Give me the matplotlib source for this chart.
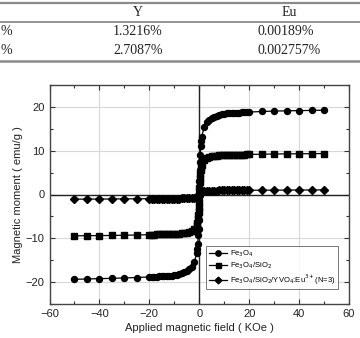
import numpy as np
import matplotlib
matplotlib.use('Agg')
from matplotlib import pyplot as plt
from matplotlib.ticker import MultipleLocator

# 表格内容（上方截断的表）
col_heads = ['Y', 'Eu']
row_y = ['1.3216%', '2.7087%']
row_eu = ['0.00189%', '0.002757%']
row_left = ['%', '%']

# 磁滞回线数据 (KOe, emu/g)
field = [-50, -45, -40, -35, -30, -25,
         -20, -19, -18, -17, -16, -15, -14, -13, -12, -11,
         -10, -9, -8, -7, -6, -5, -4, -3, -2, -1,
         -0.8, -0.6, -0.4, -0.3, -0.2, -0.1, 0,
         0.1, 0.2, 0.3, 0.4, 0.6, 0.8,
         1, 2, 3, 4, 5, 6, 7, 8, 9, 10,
         11, 12, 13, 14, 15, 16, 17, 18, 19, 20,
         25, 30, 35, 40, 45, 50]
m_fe3o4 = [-19.35, -19.3, -19.2, -19.15, -19.05, -18.95,
           -18.82, -18.8, -18.78, -18.75, -18.72, -18.7, -18.65, -18.6, -18.55, -18.5,
           -18.4, -18.3, -18.2, -18.0, -17.8, -17.5, -17.1, -16.5, -15.5, -13.4,
           -12.5, -11.2, -9.3, -7.8, -5.8, -3.2, 0.0,
           3.0, 5.5, 7.5, 9.0, 11.0, 12.3,
           13.2, 15.5, 16.5, 17.1, 17.5, 17.8, 18.0, 18.2, 18.3, 18.4,
           18.5, 18.55, 18.6, 18.65, 18.7, 18.72, 18.75, 18.78, 18.8, 18.82,
           18.95, 19.05, 19.1, 19.15, 19.2, 19.25]
m_sio2 = [-9.45, -9.4, -9.38, -9.35, -9.3, -9.25,
          -9.18, -9.16, -9.14, -9.12, -9.1, -9.08, -9.06, -9.04, -9.02, -9.01,
          -9.0, -8.96, -8.92, -8.87, -8.8, -8.7, -8.55, -8.3, -7.9, -6.9,
          -6.4, -5.7, -4.7, -3.9, -2.9, -1.6, 0.0,
          1.5, 2.8, 3.8, 4.6, 5.6, 6.3,
          6.8, 7.9, 8.3, 8.55, 8.7, 8.8, 8.87, 8.92, 8.96, 9.0,
          9.01, 9.03, 9.05, 9.07, 9.09, 9.1, 9.11, 9.12, 9.14, 9.15,
          9.2, 9.25, 9.28, 9.3, 9.32, 9.35]
m_yvo4 = [-1.07, -1.05, -1.04, -1.02, -1.0, -0.98,
          -0.96, -0.96, -0.95, -0.95, -0.95, -0.94, -0.94, -0.94, -0.93, -0.93,
          -0.93, -0.92, -0.92, -0.91, -0.91, -0.9, -0.89, -0.87, -0.83, -0.73,
          -0.68, -0.6, -0.48, -0.4, -0.3, -0.15, 0.0,
          0.15, 0.3, 0.4, 0.48, 0.6, 0.68,
          0.73, 0.83, 0.87, 0.89, 0.9, 0.91, 0.91, 0.92, 0.92, 0.93,
          0.93, 0.93, 0.94, 0.94, 0.94, 0.95, 0.95, 0.95, 0.96, 0.96,
          0.98, 1.0, 1.01, 1.02, 1.03, 1.05]
labels = ['Fe$_3$O$_4$', 'Fe$_3$O$_4$/SiO$_2$',
          'Fe$_3$O$_4$/SiO$_2$/YVO$_4$:Eu$^{3+}$(N=3)']

W, H = 360, 338
fig = plt.figure(figsize=(W/100, H/100), dpi=100)

# 表格部分
line_c = '#8a8a8a'
for yy, lw in [(2.5, 1.6), (21.7, 1.3), (60.5, 1.8)]:
    fig.add_artist(plt.Line2D([0, 1], [1-yy/H, 1-yy/H], color=line_c, lw=lw))
tfont = dict(family='Liberation Serif', fontsize=10, color='#222222', va='center')
fig.text(138/W, 1-12/H, col_heads[0], ha='center', **tfont)
fig.text(289/W, 1-12/H, col_heads[1], ha='center', **tfont)
for i, yy in enumerate([31.5, 51]):
    fig.text(138/W, 1-yy/H, row_y[i], ha='center', **tfont)
    fig.text(258/W, 1-yy/H, row_eu[i], ha='left', **tfont)
    fig.text(0.5/W, 1-yy/H, row_left[i], ha='left', **tfont)

# 曲线部分
ax = fig.add_axes([49.5/W, 1-304/H, 299.5/W, 219/H])
ax.grid(True, color='#d8d8d8', lw=0.8, zorder=0)
ax.axhline(0, color='#222222', lw=1.0, zorder=2)
ax.axvline(0, color='#222222', lw=1.0, zorder=2)
ax.plot(field, m_fe3o4, '-o', color='black', ms=4.3, lw=0.9, label=labels[0], zorder=3)
ax.plot(field, m_sio2, '-s', color='black', ms=4.0, lw=0.9, label=labels[1], zorder=3)
ax.plot(field, m_yvo4, '-D', color='black', ms=3.8, lw=0.9, label=labels[2], zorder=3)

ax.set_xlim(-60, 60)
ax.set_ylim(-25, 25)
ax.xaxis.set_major_locator(MultipleLocator(20))
ax.xaxis.set_minor_locator(MultipleLocator(10))
ax.yaxis.set_major_locator(MultipleLocator(10))
ax.yaxis.set_minor_locator(MultipleLocator(5))
ax.tick_params(which='both', direction='in', top=True, right=True,
               labelsize=8, color='#333333', labelcolor='#222222')
ax.tick_params(which='major', length=3.5, width=0.8)
ax.tick_params(which='minor', length=2, width=0.8)
for tl in ax.get_xticklabels() + ax.get_yticklabels():
    tl.set_family('Liberation Sans')
for sp in ax.spines.values():
    sp.set_color('#444444')
    sp.set_linewidth(1.0)

ax.set_xlabel('Applied magnetic field ( KOe )', fontsize=8, family='Liberation Sans',
              color='#222222', labelpad=3)
ax.set_ylabel('Magnetic moment ( emu/g )', fontsize=8, family='Liberation Sans',
              color='#222222', labelpad=2)

leg = ax.legend(loc='lower right', bbox_to_anchor=(0.975, 0.05),
                prop={'family': 'Liberation Sans', 'size': 5.5},
                frameon=True, fancybox=False, edgecolor='#555555',
                handlelength=2.3, handletextpad=0.4, borderpad=0.35,
                labelspacing=0.15, markerscale=0.9)
leg.get_frame().set_linewidth(0.7)

fig.savefig('out.png', dpi=100)
